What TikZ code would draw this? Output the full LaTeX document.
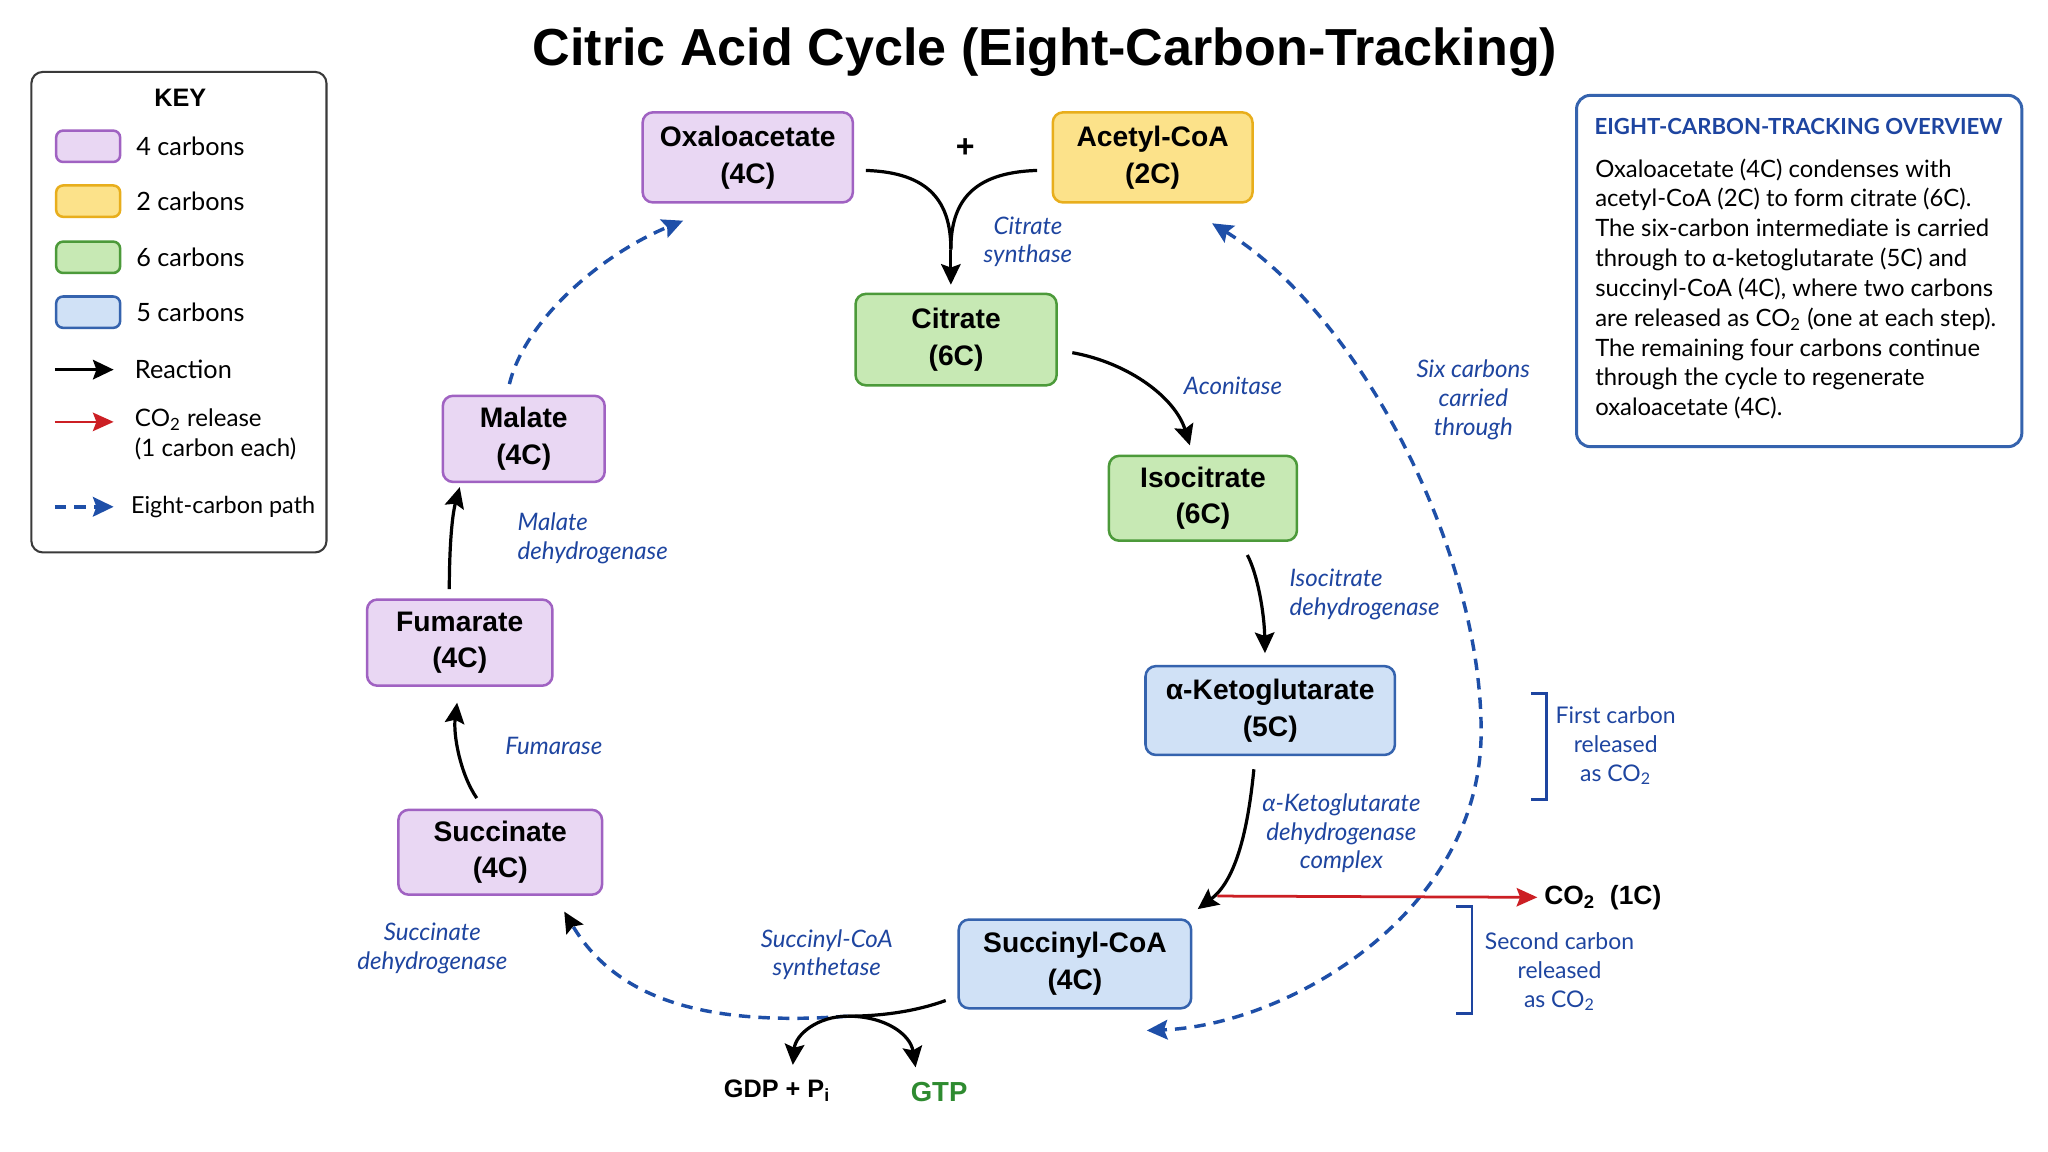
\documentclass[tikz,border=0pt]{standalone}
\usepackage{fontspec}
\setmainfont{Lato}
\newfontfamily\hfont{Liberation Sans}
\usetikzlibrary{arrows.meta,calc}
\definecolor{pfill}{HTML}{E9D7F3}
\definecolor{pdraw}{HTML}{A062C2}
\definecolor{yfill}{HTML}{FCE28A}
\definecolor{ydraw}{HTML}{E8AE1C}
\definecolor{gfill}{HTML}{C7E9B4}
\definecolor{gdraw}{HTML}{4C9A3A}
\definecolor{bfill}{HTML}{D0E1F6}
\definecolor{bdraw}{HTML}{3563AE}
\definecolor{enzblue}{HTML}{1E45A0}
\definecolor{dashblue}{HTML}{1E4FA8}
\definecolor{co2red}{HTML}{CC1F24}
\definecolor{gtpgreen}{HTML}{2E8B30}
\definecolor{keygray}{HTML}{3A3A3A}
\begin{document}
\begin{tikzpicture}[x=0.02cm,y=-0.02cm,
  mol/.style={draw, rounded corners=4.5pt, line width=1.1pt, align=center, inner sep=0pt,
    font=\hfont\bfseries\fontsize{12.3}{16}\selectfont},
  c4/.style={mol, fill=pfill, draw=pdraw},
  c2/.style={mol, fill=yfill, draw=ydraw},
  c6/.style={mol, fill=gfill, draw=gdraw},
  c5/.style={mol, fill=bfill, draw=bdraw},
  enz/.style={text=enzblue, inner sep=0pt, align=center, font=\itshape\fontsize{10.5}{12.5}\selectfont},
  bnote/.style={text=enzblue, inner sep=0pt, align=center, font=\fontsize{10}{12.5}\selectfont},
  rxn/.style={line width=1.4pt, -{Stealth[length=9pt,width=8.5pt,inset=1.5pt]}},
  pathdash/.style={draw=dashblue, line width=1.5pt, dash pattern=on 5pt off 3.5pt},
  bluehead/.style={-{Stealth[length=9pt,width=8.5pt,inset=1.5pt,color=dashblue]}},
  redarrow/.style={draw=co2red, line width=1.2pt, -{Stealth[length=9pt,width=8pt,inset=1.5pt,color=co2red]}},
  swatch/.style={draw, rounded corners=3pt, line width=1.1pt, minimum width=0.98cm, minimum height=0.48cm, inner sep=0pt},
  keylbl/.style={anchor=west, inner sep=0pt, align=left, font=\fontsize{11}{13}\selectfont},
  brk/.style={draw=enzblue, line width=1pt}
]
\useasboundingbox[fill=white] (0,0) rectangle (1568,882);

% title
\node[font=\hfont\bfseries\fontsize{22.7}{27}\selectfont] (title) at (800,40) {Citric Acid Cycle (Eight-Carbon-Tracking)};

% molecules
\node[c4, minimum width=3.22cm, minimum height=1.38cm] (oxa) at (572.5,120.5) {Oxaloacetate\\(4C)};
\node[c2, minimum width=3.06cm, minimum height=1.38cm] (acetyl) at (882.5,120.5) {Acetyl-CoA\\(2C)};
\node[font=\hfont\bfseries\fontsize{14}{16}\selectfont] (plus) at (739,113) {+};
\node[c6, minimum width=3.08cm, minimum height=1.40cm] (citrate) at (732,260) {Citrate\\(6C)};
\node[c6, minimum width=2.88cm, minimum height=1.30cm] (isocit) at (921,381.5) {Isocitrate\\(6C)};
\node[c5, minimum width=3.82cm, minimum height=1.36cm] (akg) at (972.5,544) {α-Ketoglutarate\\(5C)};
\node[c5, minimum width=3.56cm, minimum height=1.36cm] (succoa) at (823,738) {Succinyl-CoA\\(4C)};
\node[c4, minimum width=3.12cm, minimum height=1.30cm] (succinate) at (383,652.5) {Succinate\\(4C)};
\node[c4, minimum width=2.84cm, minimum height=1.32cm] (fumarate) at (352,492) {Fumarate\\(4C)};
\node[c4, minimum width=2.48cm, minimum height=1.32cm] (malate) at (401,336) {Malate\\(4C)};

% products
\node[font=\hfont\bfseries\fontsize{11.5}{14}\selectfont, anchor=west, inner sep=0pt] (co2) at (1182,687) {CO\textsubscript{2}\ \ (1C)};
\node[font=\hfont\bfseries\fontsize{11}{14}\selectfont, inner sep=0pt] (gdp) at (595,835) {GDP + P\textsubscript{i}};
\node[font=\hfont\bfseries\fontsize{12}{14}\selectfont, text=gtpgreen, inner sep=0pt] (gtp) at (719,836) {GTP};

% enzyme labels
\node[enz] (cs) at (787,185) {Citrate\\synthase};
\node[enz] (acon) at (944,295) {Aconitase};
\node[enz] (six) at (1128,306) {Six carbons\\carried\\through};
\node[enz, align=left, anchor=west] (idh) at (987,455) {Isocitrate\\dehydrogenase};
\node[enz] (akgdh) at (1027,638) {α-Ketoglutarate\\dehydrogenase\\complex};
\node[enz] (scs) at (633,731) {Succinyl-CoA\\synthetase};
\node[enz] (sdh) at (331,726) {Succinate\\dehydrogenase};
\node[enz] (fum) at (424,571) {Fumarase};
\node[enz, align=left, anchor=west] (mdh) at (396,412) {Malate\\dehydrogenase};

% brackets
\node[bnote] (first) at (1237,571) {First carbon\\released\\as CO\textsubscript{2}};
\node[bnote] (second) at (1194,744) {Second carbon\\released\\as CO\textsubscript{2}};
\coordinate (b1t) at ($(first.center)+(-53,-40)$);
\coordinate (b1b) at ($(first.center)+(-53,41)$);
\draw[brk] ($(b1t)+(-12,0)$) -- (b1t) -- (b1b) -- ($(b1b)+(-12,0)$);
\coordinate (b2t) at ($(second.center)+(-67,-50)$);
\coordinate (b2b) at ($(second.center)+(-67,32)$);
\draw[brk] ($(b2t)+(-12,0)$) -- (b2t) -- (b2b) -- ($(b2b)+(-12,0)$);

% dashed eight-carbon paths
\draw[pathdash, bluehead] ($(malate.north)+(-11,-8)$) .. controls (402,245) and (460,195) .. ($(oxa.south)+(-49.5,13)$);
\coordinate (rmid) at (1134,560);
\draw[pathdash, {Stealth[length=9pt,width=8.5pt,inset=1.5pt,color=dashblue]}-{Stealth[length=9pt,width=8.5pt,inset=1.5pt,color=dashblue]}]
  ($(acetyl.south)+(45.5,15)$) .. controls (1040,240) and (1134,420) .. (rmid)
  .. controls (1134,700) and (985,785) .. ($(succoa.south)+(55,16)$);
\coordinate (apex) at ($(succoa.west)+(-84,40)$);
\draw[pathdash, -{Stealth[length=9pt,width=8.5pt,inset=1.5pt,color=black]}] (apex) .. controls (540,786) and (472,765) .. ($(succinate.south)+(49,12)$);

% reactions
\coordinate (merge) at ($(citrate.north)+(-4,-33)$);
\draw[line width=1.4pt] ($(oxa.east)+(9,10)$) .. controls (712,132) and (728,155) .. (merge);
\draw[line width=1.4pt] ($(acetyl.west)+(-11,10)$) .. controls (744,132) and (728,155) .. (merge);
\draw[rxn] (merge) -- ($(citrate.north)+(-4,-6)$);
\draw[rxn] ($(citrate.east)+(11,10)$) .. controls (865,278) and (900,305) .. ($(isocit.north)+(-10,-7)$);
\draw[rxn] ($(isocit.south)+(34,10)$) .. controls (963,440) and (968,470) .. ($(akg.north)+(-4,-9)$);
\draw[rxn] ($(akg.south)+(-12.5,10)$) .. controls (955,640) and (945,675) .. ($(succoa.north)+(94,-7)$);
\coordinate (co2s) at ($(succoa.north)+(109,-17)$);
\draw[redarrow] (co2s) -- ($(co2.west)+(-5,0)$);
\draw[line width=1.4pt] ($(succoa.west)+(-9,28)$) .. controls (702,774) and (676,778) .. (apex);
\draw[rxn] (apex) .. controls (626,778) and (609,792) .. ($(gdp.north)+(12,-11)$);
\draw[rxn] (apex) .. controls (678,778) and (697,792) .. ($(gtp.north)+(-18,-11)$);
\draw[rxn] ($(succinate.north)+(-18,-8)$) .. controls (352,592) and (347,562) .. ($(fumarate.south)+(-2,12)$);
\draw[rxn] ($(fumarate.north)+(-8,-7)$) .. controls (344,420) and (346,395) .. ($(malate.south)+(-49,3)$);

% key
\node[draw=keygray, line width=0.9pt, rounded corners=5pt, minimum width=4.52cm, minimum height=7.36cm, inner sep=0pt] (keyframe) at (137,239) {};
\node[font=\hfont\bfseries\fontsize{11}{13}\selectfont] (keytitle) at (138,75) {KEY};
\node[swatch, fill=pfill, draw=pdraw] (s4) at (67.5,112) {};
\node[swatch, fill=yfill, draw=ydraw] (s2) at (67.5,154) {};
\node[swatch, fill=gfill, draw=gdraw] (s6) at (67.5,197) {};
\node[swatch, fill=bfill, draw=bdraw] (s5) at (67.5,239) {};
\node[keylbl] (l4) at (104,112) {4 carbons};
\node[keylbl] (l2) at (104,154) {2 carbons};
\node[keylbl] (l6) at (104,197) {6 carbons};
\node[keylbl] (l5) at (104,239) {5 carbons};
\node[keylbl] (lr) at (103,283) {Reaction};
\node[keylbl, font=\fontsize{10.5}{13}\selectfont] (lc) at (103,332.5) {CO\textsubscript{2} release\\(1 carbon each)};
\node[keylbl, font=\fontsize{10.2}{13}\selectfont] (le) at (100,388) {Eight-carbon path};
\coordinate (kr1) at (42,283); \coordinate (kr2) at (87,283);
\draw[rxn, line width=1.3pt] (kr1) -- (kr2);
\coordinate (kc1) at (42,323); \coordinate (kc2) at (87,323);
\draw[redarrow] (kc1) -- (kc2);
\coordinate (ke1) at (42,388); \coordinate (ke2) at (87,388);
\draw[pathdash, bluehead] (ke1) -- (ke2);

% overview
\node[draw=bdraw, line width=1.3pt, rounded corners=6pt, minimum width=6.82cm, minimum height=5.38cm, inner sep=0pt] (ovframe) at (1377.5,207.5) {};
\node[font=\bfseries\fontsize{9.65}{11}\selectfont, text=enzblue] (ovtitle) at (1377,97) {EIGHT-CARBON-TRACKING OVERVIEW};
\node[anchor=north west, align=left, inner sep=0pt, font=\fontsize{10.4}{13}\selectfont] (ovbody) at (1221,121) {Oxaloacetate (4C) condenses with\\acetyl-CoA (2C) to form citrate (6C).\\The six-carbon intermediate is carried\\through to α-ketoglutarate (5C) and\\succinyl-CoA (4C), where two carbons\\are released as CO\textsubscript{2} (one at each step).\\The remaining four carbons continue\\through the cycle to regenerate\\oxaloacetate (4C).};
\end{tikzpicture}
\end{document}
